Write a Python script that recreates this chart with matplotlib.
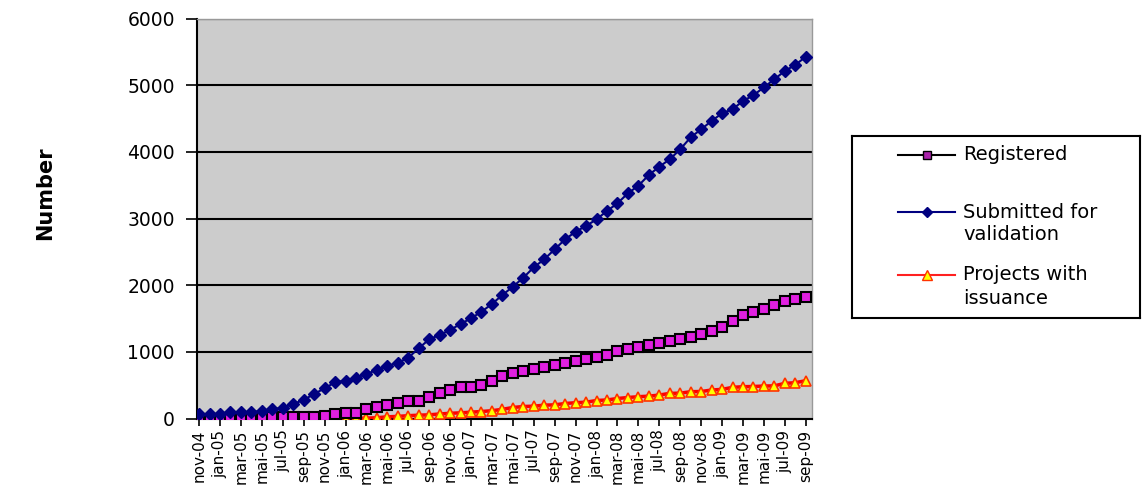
import numpy as np
import matplotlib
matplotlib.use("Agg")
import matplotlib.pyplot as plt
from matplotlib import font_manager

# monthly categories, nov-04 .. sep-09
month_names = ['jan', 'feb', 'mar', 'apr', 'mai', 'jun',
               'jul', 'aug', 'sep', 'oct', 'nov', 'dec']
months = []
for k in range(59):
    m = (10 + k) % 12
    y = 4 + (10 + k) // 12
    months.append('%s-%02d' % (month_names[m], y))

submitted = [67, 67, 67, 93, 93, 93,
             117, 138, 162, 218, 278, 368, 453, 543, 570,
             612, 668, 728, 788, 836, 912, 1053, 1188, 1253, 1328, 1418, 1503, 1602, 1718,
             1853, 1977, 2112, 2268, 2388, 2538, 2688, 2802, 2888, 2988, 3113, 3228, 3378, 3492, 3653,
             3777, 3888, 4038, 4218, 4338, 4463, 4578, 4638, 4763, 4848, 4968, 5088, 5213, 5303, 5427]

registered = [0, 0, 0, 3, 5, 8, 15, 18, 20, 22, 25, 28,
              35, 75, 85, 90,
              145, 177, 208, 232, 265, 270, 327, 382, 422, 477, 480, 502, 560,
              642, 677, 717, 742, 777, 802, 837, 862, 892, 917, 952, 1012, 1042,
              1077, 1105, 1137, 1162, 1192, 1227, 1267, 1317, 1377, 1467, 1552, 1602, 1642,
              1702, 1767, 1792, 1827]

issuance = [0, 0, 0, 0, 0, 0, 0, 0, 0, 0, 0, 0, 0, 0,
            0, 2, 5, 12, 25, 32, 42, 50, 55, 68, 78, 85, 95, 105,
            117, 138, 165, 180, 185, 200, 205, 225, 237, 245, 270, 278, 300, 315, 327,
            335, 352, 377, 380, 402, 405, 427, 437, 467, 477, 480, 487, 490, 527, 537, 567]

series_labels = ['Registered', 'Submitted for\nvalidation', 'Projects with\nissuance']

W, H = 1147, 496
fig = plt.figure(figsize=(W / 100, H / 100), dpi=100)
plt.rcParams['font.family'] = ['DejaVu Sans']

ax = fig.add_axes([197 / W, (H - 418.5) / H, 615 / W, 400 / H])
ax.set_facecolor('#cccccc')

x = np.arange(len(months))
ax.plot(x, registered, color='black', lw=1.5, marker='s', ms=6.5,
        mfc='#e020e0', mec='black', mew=1.5, zorder=4)
ax.plot(x, submitted, color='#000080', lw=1.5, marker='D', ms=6,
        mfc='#000080', mec='#000080', zorder=4)
ax.plot(x, issuance, color='#ff0000', lw=2.5, marker='^', ms=7,
        mfc='#ffff00', mec='#ff3300', mew=1.2, zorder=3)

ax.set_ylim(0, 6000)
ax.set_xlim(-0.2, 58.6)
ax.set_yticks(range(0, 6001, 1000))
ax.yaxis.grid(True, color='black', lw=1.5)
ax.set_axisbelow(True)
ax.set_xticks(x[::2])
ax.set_xticklabels(months[::2], rotation=90, fontsize=11)
ax.tick_params(axis='x', direction='out', length=5, width=1.2, pad=3)
ax.tick_params(axis='y', direction='out', length=8, width=1.2, pad=8, labelsize=13.5)

for s in ['left', 'bottom']:
    ax.spines[s].set_color('black')
    ax.spines[s].set_linewidth(1.5)
for s in ['top', 'right']:
    ax.spines[s].set_color('#999999')
    ax.spines[s].set_linewidth(1.0)

# y axis title, condensed bold face if available
try:
    font_manager.findfont(font_manager.FontProperties(family='Liberation Sans Narrow'),
                          fallback_to_default=False)
    ylab_font, ylab_size = 'Liberation Sans Narrow', 21
except ValueError:
    ylab_font, ylab_size = 'DejaVu Sans', 15
fig.text(45 / W, 1 - 193 / H, 'Number', rotation=90, ha='center', va='center',
         fontsize=ylab_size, fontweight='bold', family=ylab_font)

# legend box drawn by hand so the markers sit on the first text line
lx0, ly0, lx1, ly1 = 852, 136, 1140, 318
lax = fig.add_axes([lx0 / W, (H - ly1) / H, (lx1 - lx0) / W, (ly1 - ly0) / H])
lax.set_xlim(0, lx1 - lx0)
lax.set_ylim(ly1 - ly0, 0)
lax.set_xticks([])
lax.set_yticks([])
lax.set_facecolor('white')
for s in lax.spines.values():
    s.set_color('black')
    s.set_linewidth(1.5)

styles = [dict(color='black', lw=1.5, marker='s', ms=6, mfc='#aa22aa', mec='black', mew=1),
          dict(color='#000080', lw=1.5, marker='D', ms=5, mfc='#000080', mec='#000080'),
          dict(color='#ff2020', lw=1.5, marker='^', ms=7, mfc='#ffff00', mec='#ff3300', mew=1)]
rows = [19, 76, 139]
for lab, st, yy in zip(series_labels, styles, rows):
    lax.plot([46, 103], [yy, yy], **st, markevery=[])
    lax.plot([74.5], [yy], **st)
    for j, line in enumerate(lab.split('\n')):
        lax.text(111, yy + j * 23, line, fontsize=14, va='center', ha='left')

fig.savefig('out.png', dpi=100)
